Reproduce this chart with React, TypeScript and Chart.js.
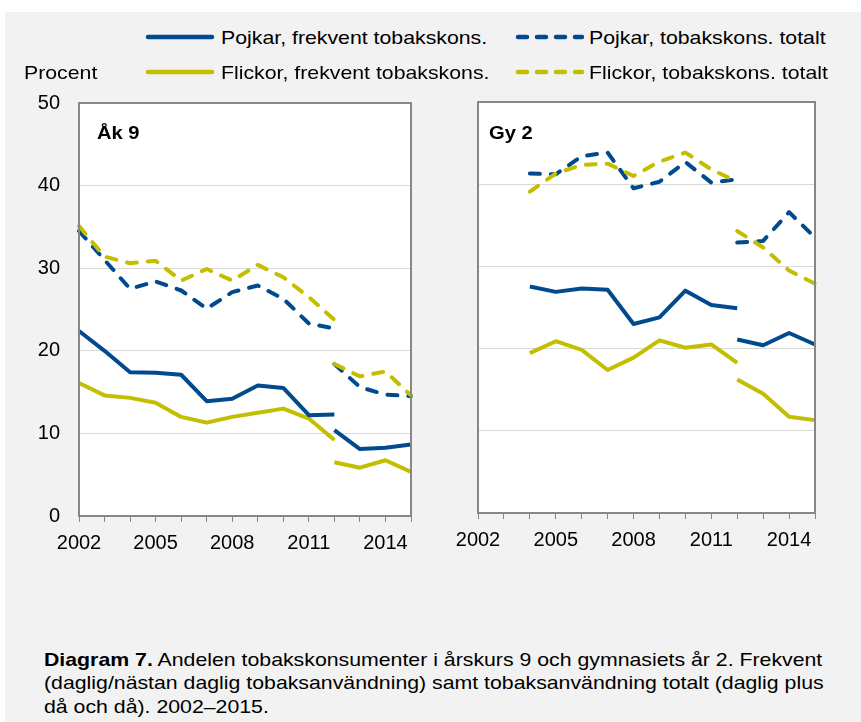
import React, { useEffect, useRef } from 'react';
import { Chart, registerables } from 'chart.js';

Chart.register(...registerables);

// ---------- DATA ----------
const YEARS = ['2002', '2003', '2004', '2005', '2006', '2007', '2008', '2009', '2010', '2011', '2012', '2013', '2014', '2015'];
const X_TICK_LABELS = ['2002', '2005', '2008', '2011', '2014'];
const Y_TICKS = [0, 10, 20, 30, 40, 50];

// Åk 9 (old method 2002–2012, new method 2012–2015)
const ak9BoysFreqOld = [22.4, 20.0, 17.4, 17.35, 17.1, 13.9, 14.2, 15.8, 15.5, 12.2, 12.3, null, null, null];
const ak9BoysFreqNew = [null, null, null, null, null, null, null, null, null, null, 10.4, 8.1, 8.25, 8.65];
const ak9GirlsFreqOld = [16.1, 14.6, 14.3, 13.7, 12.0, 11.3, 12.0, 12.5, 13.0, 11.8, 9.2, null, null, null];
const ak9GirlsFreqNew = [null, null, null, null, null, null, null, null, null, null, 6.5, 5.85, 6.75, 5.35];
const ak9BoysTotOld = [34.5, 31.0, 27.5, 28.4, 27.3, 25.1, 27.1, 27.9, 26.3, 23.3, 22.7, null, null, null];
const ak9BoysTotNew = [null, null, null, null, null, null, null, null, null, null, 18.4, 15.6, 14.7, 14.5];
const ak9GirlsTotOld = [35.1, 31.4, 30.6, 30.9, 28.5, 29.9, 28.5, 30.4, 28.9, 26.5, 23.75, null, null, null];
const ak9GirlsTotNew = [null, null, null, null, null, null, null, null, null, null, 18.4, 16.9, 17.5, 14.6];

// Gy 2
const gy2BoysFreqOld = [null, null, 27.55, 26.9, 27.3, 27.15, 23.0, 23.8, 27.05, 25.3, 24.9, null, null, null];
const gy2BoysFreqNew = [null, null, null, null, null, null, null, null, null, null, 21.1, 20.4, 21.9, 20.5];
const gy2GirlsFreqOld = [null, null, 19.45, 20.9, 19.85, 17.4, 18.9, 21.0, 20.1, 20.5, 18.25, null, null, null];
const gy2GirlsFreqNew = [null, null, null, null, null, null, null, null, null, null, 16.25, 14.5, 11.7, 11.3];
const gy2BoysTotOld = [null, null, 41.3, 41.2, 43.4, 43.85, 39.5, 40.3, 42.7, 40.2, 40.6, null, null, null];
const gy2BoysTotNew = [null, null, null, null, null, null, null, null, null, null, 32.9, 33.1, 36.6, 33.5];
const gy2GirlsTotOld = [null, null, 39.1, 41.3, 42.35, 42.5, 41.0, 42.75, 43.85, 41.8, 40.3, null, null, null];
const gy2GirlsTotNew = [null, null, null, null, null, null, null, null, null, null, 34.3, 32.3, 29.5, 27.9];

const LEGEND_LABELS = [
  'Pojkar, frekvent tobakskons.',
  'Pojkar, tobakskons. totalt',
  'Flickor, frekvent tobakskons.',
  'Flickor, tobakskons. totalt',
];

// ---------- STYLE ----------
const BLUE = '#004a8d';
const YELLOW = '#c3be00';
const FONT = "'Liberation Sans', Arial, Helvetica, sans-serif";
const DASH = [10, 11];

function ds(data: (number | null)[], color: string, dashed: boolean) {
  return {
    data,
    borderColor: color,
    backgroundColor: color,
    borderWidth: 4,
    borderDash: dashed ? DASH : [],
    borderCapStyle: dashed ? 'round' : 'butt',
    borderJoinStyle: 'round',
    pointRadius: 0,
    pointHoverRadius: 0,
    tension: 0,
    spanGaps: false,
    fill: false,
  } as any;
}

const framePlugin = {
  id: 'frame',
  beforeDraw(chart: any) {
    const { ctx, chartArea: a } = chart;
    ctx.save();
    ctx.fillStyle = '#ffffff';
    ctx.fillRect(a.left, a.top, a.right - a.left, a.bottom - a.top);
    ctx.restore();
  },
  afterDatasetsDraw(chart: any) {
    const { ctx, chartArea: a } = chart;
    ctx.save();
    ctx.strokeStyle = '#878787';
    ctx.lineWidth = 2;
    ctx.strokeRect(a.left, a.top, a.right - a.left, a.bottom - a.top);
    ctx.restore();
  },
};

type PanelProps = {
  left: number;
  top: number;
  width: number;
  height: number;
  yWidth: number;
  padding: { top: number; right: number; bottom: number; left: number };
  datasets: any[];
  showYLabels: boolean;
};

function LinePanel(p: PanelProps) {
  const ref = useRef<HTMLCanvasElement>(null);
  useEffect(() => {
    const chart = new Chart(ref.current as HTMLCanvasElement, {
      type: 'line',
      data: { labels: YEARS, datasets: p.datasets },
      options: {
        responsive: false,
        animation: false,
        devicePixelRatio: 1,
        layout: { padding: p.padding },
        plugins: { legend: { display: false }, tooltip: { enabled: false } },
        scales: {
          x: {
            type: 'category',
            offset: false,
            border: { display: false },
            grid: { drawOnChartArea: false, drawTicks: true, tickLength: 6, color: '#878787', lineWidth: 1 },
            ticks: {
              autoSkip: false,
              maxRotation: 0,
              minRotation: 0,
              padding: 9,
              color: '#000',
              font: { family: FONT, size: 20 },
              callback: (_v: any, i: number) => (X_TICK_LABELS.includes(YEARS[i]) ? YEARS[i] : ''),
            },
            afterFit: (s: any) => {
              s.height = 40;
            },
          },
          y: {
            min: Y_TICKS[0],
            max: Y_TICKS[Y_TICKS.length - 1],
            border: { display: false },
            grid: { color: '#d9d9d9', drawTicks: false, lineWidth: 1 },
            ticks: {
              display: p.showYLabels,
              stepSize: 10,
              padding: 19,
              color: '#000',
              font: { family: FONT, size: 20 },
            },
            afterFit: (s: any) => {
              s.width = p.yWidth;
            },
          },
        },
      } as any,
      plugins: [framePlugin],
    });
    return () => chart.destroy();
  }, []);
  return (
    <canvas
      ref={ref}
      width={p.width}
      height={p.height}
      style={{ position: 'absolute', left: p.left, top: p.top, width: p.width, height: p.height }}
    />
  );
}

function LegendSample({ left, top, color, dashed }: { left: number; top: number; color: string; dashed: boolean }) {
  return (
    <svg style={{ position: 'absolute', left, top }} width={72} height={8}>
      <line
        x1={4}
        y1={4}
        x2={68}
        y2={4}
        stroke={color}
        strokeWidth={4.5}
        strokeLinecap="round"
        strokeDasharray={dashed ? '9 10' : undefined}
      />
    </svg>
  );
}

const textStyle = (left: number, top: number, size: number, lh: number, bold = false): React.CSSProperties => ({
  position: 'absolute',
  left,
  top,
  fontFamily: FONT,
  fontSize: size,
  lineHeight: lh + 'px',
  fontWeight: bold ? 'bold' : 'normal',
  color: '#000',
  whiteSpace: 'nowrap',
  transform: 'scaleX(1.12)',
  transformOrigin: 'left top',
});

export default function App() {
  const ak9 = [
    ds(ak9GirlsTotOld, YELLOW, true),
    ds(ak9GirlsTotNew, YELLOW, true),
    ds(ak9BoysTotOld, BLUE, true),
    ds(ak9BoysTotNew, BLUE, true),
    ds(ak9BoysFreqOld, BLUE, false),
    ds(ak9BoysFreqNew, BLUE, false),
    ds(ak9GirlsFreqOld, YELLOW, false),
    ds(ak9GirlsFreqNew, YELLOW, false),
  ];
  const gy2 = [
    ds(gy2GirlsTotOld, YELLOW, true),
    ds(gy2GirlsTotNew, YELLOW, true),
    ds(gy2BoysTotOld, BLUE, true),
    ds(gy2BoysTotNew, BLUE, true),
    ds(gy2BoysFreqOld, BLUE, false),
    ds(gy2BoysFreqNew, BLUE, false),
    ds(gy2GirlsFreqOld, YELLOW, false),
    ds(gy2GirlsFreqNew, YELLOW, false),
  ];

  return (
    <div style={{ position: 'absolute', left: 0, top: 0, width: 861, height: 722, overflow: 'hidden' }}>
      <div style={{ position: 'absolute', left: 5, top: 12, width: 856, height: 710, background: '#f2f2f2' }} />

      {/* Panels */}
      <LinePanel
        left={5}
        top={72}
        width={430}
        height={490}
        yWidth={74}
        padding={{ top: 10, right: 24, bottom: 6, left: 0 }}
        datasets={ak9}
        showYLabels={true}
      />
      <LinePanel
        left={440}
        top={92}
        width={421}
        height={470}
        yWidth={38}
        padding={{ top: 10, right: 46, bottom: 9, left: 0 }}
        datasets={gy2}
        showYLabels={false}
      />

      {/* Legend */}
      <LegendSample left={144} top={33} color={BLUE} dashed={false} />
      <div style={textStyle(221, 27, 19, 22)}>{LEGEND_LABELS[0]}</div>
      <LegendSample left={514} top={33} color={BLUE} dashed={true} />
      <div style={textStyle(589, 27, 19, 22)}>{LEGEND_LABELS[1]}</div>

      <div style={textStyle(24, 62, 19, 22)}>Procent</div>
      <LegendSample left={144} top={68} color={YELLOW} dashed={false} />
      <div style={textStyle(221, 62, 19, 22)}>{LEGEND_LABELS[2]}</div>
      <LegendSample left={514} top={68} color={YELLOW} dashed={true} />
      <div style={textStyle(589, 62, 19, 22)}>{LEGEND_LABELS[3]}</div>

      <div style={textStyle(97, 121, 18, 24, true)}>Åk 9</div>
      <div style={textStyle(489, 121, 18, 24, true)}>Gy 2</div>

      {/* Caption */}
      <div style={textStyle(44, 648, 19, 23.3)}>
        <b>Diagram 7.</b> Andelen tobakskonsumenter i årskurs 9 och gymnasiets år 2. Frekvent
        <br />
        (daglig/nästan daglig tobaksanvändning) samt tobaksanvändning totalt (daglig plus
        <br />
        då och då). 2002–2015.
      </div>
    </div>
  );
}
